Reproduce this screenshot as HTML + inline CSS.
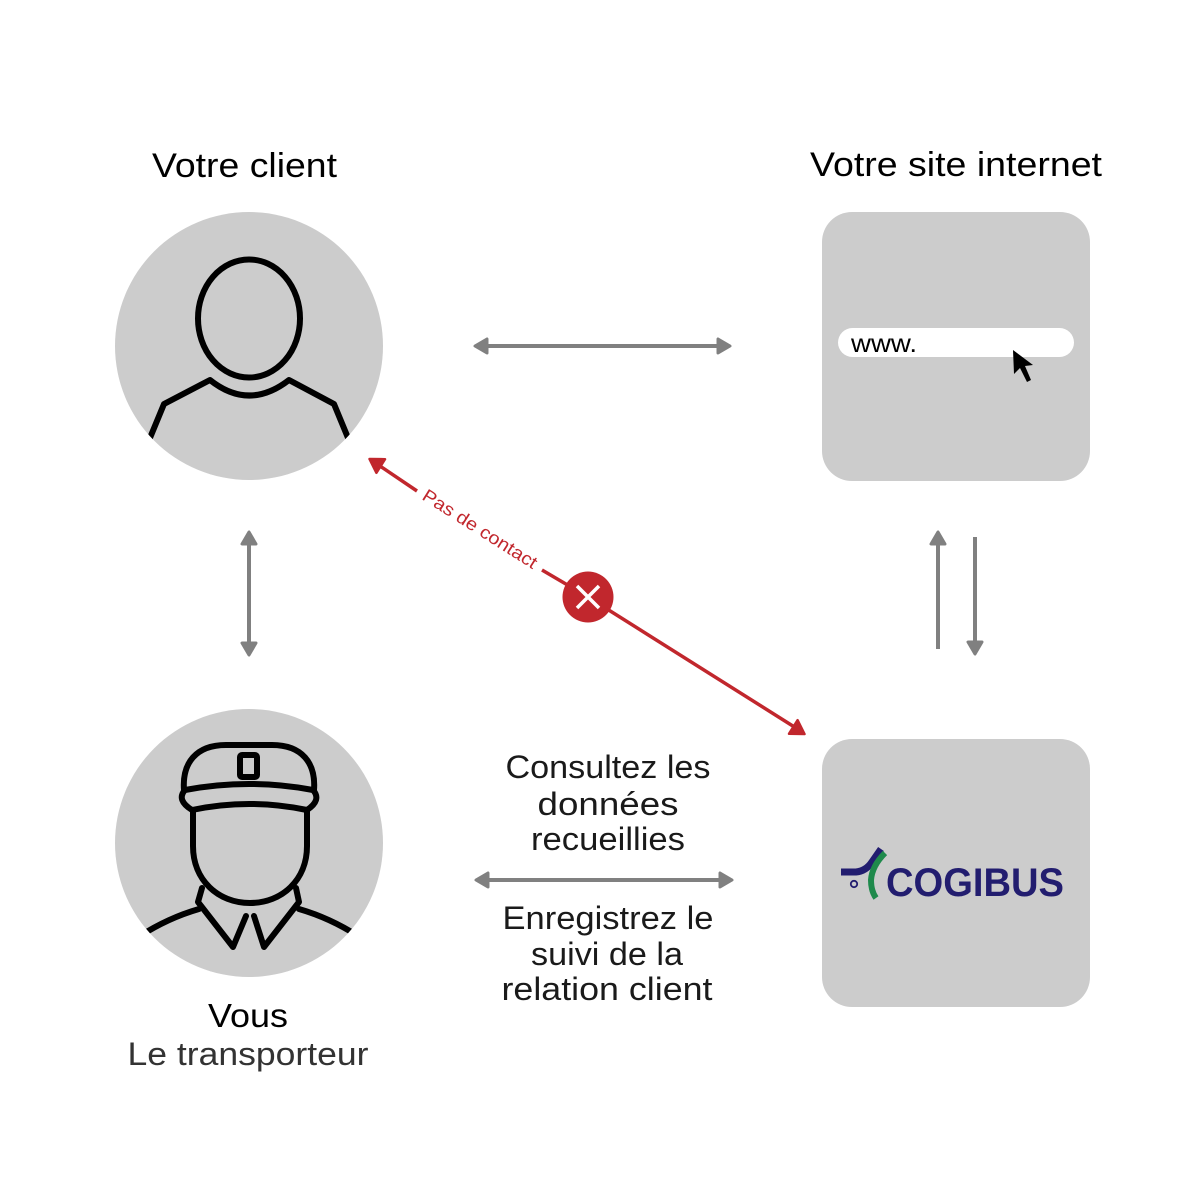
<!DOCTYPE html>
<html>
<head>
<meta charset="utf-8">
<style>
  html,body{margin:0;padding:0;background:#fff;}
  svg{display:block;}
  text{font-family:"Liberation Sans",sans-serif;}
</style>
</head>
<body>
<svg width="1200" height="1200" viewBox="0 0 1200 1200" xmlns="http://www.w3.org/2000/svg">
  <defs>
    <clipPath id="c1"><circle cx="249" cy="346" r="134"/></clipPath>
    <clipPath id="c2"><circle cx="249" cy="843" r="134"/></clipPath>
  </defs>
  <rect width="1200" height="1200" fill="#fff"/>

  <!-- Titles -->
  <text x="152" y="177" font-size="34" fill="#000" textLength="185" lengthAdjust="spacingAndGlyphs">Votre client</text>
  <text x="810" y="176" font-size="34" fill="#000" textLength="292" lengthAdjust="spacingAndGlyphs">Votre site internet</text>

  <!-- Client circle -->
  <circle cx="249" cy="346" r="134" fill="#cccccc"/>
  <g clip-path="url(#c1)" fill="none" stroke="#000" stroke-width="6" stroke-linejoin="round">
    <ellipse cx="249" cy="318.5" rx="51" ry="59"/>
    <path d="M145,450 L164,404 L210,380 Q249,411 289,380 L334,404 L353,450"/>
  </g>

  <!-- Site box -->
  <rect x="822" y="212" width="268" height="269" rx="30" ry="30" fill="#cccccc"/>
  <rect x="838" y="328" width="236" height="29" rx="14.5" ry="14.5" fill="#fff"/>
  <text x="851" y="352" font-size="26" fill="#000" textLength="66" lengthAdjust="spacingAndGlyphs">www.</text>
  <polygon points="1013,350 1014,374 1020,368 1027,382 1031,380 1025,366 1033,365" fill="#000"/>

  <!-- Driver circle -->
  <circle cx="249" cy="843" r="134" fill="#cccccc"/>
  <g clip-path="url(#c2)" fill="none" stroke="#000" stroke-width="6" stroke-linejoin="round" stroke-linecap="round">
    <!-- cap dome -->
    <path d="M184,790 C182,763 196,745 226,745 L272,745 C302,745 316,763 314,790"/>
    <!-- brim -->
    <path d="M185,790 Q249,778 313,790 Q322,800 307,810 Q249,798 192,810 Q176,800 185,790 Z"/>
    <!-- badge -->
    <rect x="240" y="755" width="17" height="22" rx="2" ry="2"/>
    <!-- face -->
    <path d="M193,810 L193,846 C193,880 218,903 250,903 C282,903 307,880 307,846 L307,810"/>
    <!-- collar left -->
    <path d="M202,888 L198,902 L233,947 L246,916"/>
    <!-- collar right -->
    <path d="M254,916 L264,947 L299,902 L296,888"/>
    <!-- shoulders -->
    <path d="M140,936 Q168,918 199,909"/>
    <path d="M299,909 Q330,918 358,936"/>
  </g>

  <!-- Cogibus box -->
  <rect x="822" y="739" width="268" height="268" rx="30" ry="30" fill="#cccccc"/>
  <path d="M841,872 L856,872 Q866,871 872,862 L881,849" fill="none" stroke="#221d6f" stroke-width="7"/>
  <path d="M885,853 Q872,866 871,880 Q871,891 876,898" fill="none" stroke="#1f8a4c" stroke-width="6"/>
  <circle cx="854" cy="884" r="3.2" fill="none" stroke="#221d6f" stroke-width="1.8"/>
  <text x="886" y="896" font-size="40" font-weight="bold" fill="#221d6f" textLength="178" lengthAdjust="spacingAndGlyphs">COGIBUS</text>

  <!-- Gray arrows -->
  <g stroke="#808080" fill="#808080" stroke-linejoin="round">
    <!-- top horizontal -->
    <line x1="484" y1="346" x2="721" y2="346" stroke-width="4"/>
    <polygon points="475,346 487,339 487,353" stroke-width="3"/>
    <polygon points="730,346 718,339 718,353" stroke-width="3"/>
    <!-- bottom horizontal -->
    <line x1="485" y1="880" x2="723" y2="880" stroke-width="4"/>
    <polygon points="476,880 488,873 488,887" stroke-width="3"/>
    <polygon points="732,880 720,873 720,887" stroke-width="3"/>
    <!-- left vertical -->
    <line x1="249" y1="541" x2="249" y2="646" stroke-width="4"/>
    <polygon points="249,532 242,544 256,544" stroke-width="3"/>
    <polygon points="249,655 242,643 256,643" stroke-width="3"/>
    <!-- right up -->
    <line x1="938" y1="541" x2="938" y2="649" stroke-width="4"/>
    <polygon points="938,532 931,544 945,544" stroke-width="3"/>
    <!-- right down -->
    <line x1="975" y1="537" x2="975" y2="645" stroke-width="4"/>
    <polygon points="975,654 968,642 982,642" stroke-width="3"/>
  </g>

  <!-- Red connector -->
  <g stroke="#c1272d" fill="#c1272d" stroke-linejoin="round">
    <line x1="377" y1="464" x2="417" y2="491" stroke-width="3.5"/>
    <polygon points="369.5,459 376.4,472.8 385,459.2" stroke-width="2.5"/>
    <line x1="542" y1="570" x2="588" y2="597" stroke-width="3.5"/>
    <line x1="588" y1="597" x2="796" y2="728" stroke-width="3.5"/>
    <polygon points="804.5,734 789,733.8 797.6,720.2" stroke-width="2.5"/>
  </g>
  <text x="480" y="529" font-size="18" fill="#c1272d" text-anchor="middle" dy="6" textLength="132" lengthAdjust="spacingAndGlyphs" transform="rotate(32.3 480 529)">Pas de contact</text>

  <!-- Red X -->
  <circle cx="588" cy="597" r="25.5" fill="#c1272d"/>
  <g stroke="#fff" stroke-width="3.5" stroke-linecap="butt">
    <line x1="577" y1="586" x2="599" y2="608"/>
    <line x1="599" y1="586" x2="577" y2="608"/>
  </g>

  <!-- Middle texts -->
  <g font-size="32" fill="#1a1a1a" text-anchor="middle">
    <text x="608" y="778" textLength="205" lengthAdjust="spacingAndGlyphs">Consultez les</text>
    <text x="608" y="815" textLength="141" lengthAdjust="spacingAndGlyphs">données</text>
    <text x="608" y="850" textLength="154" lengthAdjust="spacingAndGlyphs">recueillies</text>
    <text x="608" y="929" textLength="211" lengthAdjust="spacingAndGlyphs">Enregistrez le</text>
    <text x="607" y="965" textLength="152" lengthAdjust="spacingAndGlyphs">suivi de la</text>
    <text x="607" y="1000" textLength="211" lengthAdjust="spacingAndGlyphs">relation client</text>
  </g>

  <!-- Bottom labels -->
  <text x="248" y="1027" font-size="33" fill="#000" text-anchor="middle" textLength="80" lengthAdjust="spacingAndGlyphs">Vous</text>
  <text x="248" y="1065" font-size="32" fill="#333" text-anchor="middle" textLength="241" lengthAdjust="spacingAndGlyphs">Le transporteur</text>
</svg>
</body>
</html>
